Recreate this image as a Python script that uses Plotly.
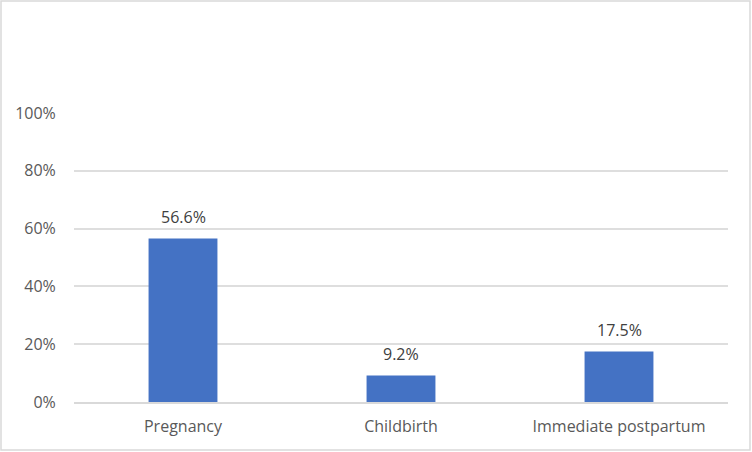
import plotly.graph_objects as go

categories = ["Pregnancy", "Childbirth", "Immediate postpartum"]
values = [0.566, 0.092, 0.175]
labels = ["56.6%", "9.2%", "17.5%"]
ytick_vals = [0, 0.2, 0.4, 0.6, 0.8, 1.0]
ytick_text = ["0%", "20%", "40%", "60%", "80%", "100%"]

W, H = 752, 452
L, R, T, B = 74, 24, 113, 50
pw, ph = W - L - R, H - T - B

fig = go.Figure(go.Bar(
    x=categories, y=values,
    marker=dict(color="#4472C4", line=dict(width=0)),
    width=0.316, hoverinfo="skip",
))

annotations = [
    dict(x=c, y=v, text=t, xref="x", yref="y", showarrow=False,
         yanchor="bottom", yshift=8,
         font=dict(size=16, color="#404040", family="Open Sans"))
    for c, v, t in zip(categories, values, labels)
]

fig.update_layout(
    width=W, height=H, margin=dict(l=L, r=R, t=T, b=B),
    paper_bgcolor="white", plot_bgcolor="white",
    font=dict(family="Open Sans", size=16, color="#595959"),
    showlegend=False,
    annotations=annotations,
    xaxis=dict(showline=True, linecolor="#d9d9d9", linewidth=1.5,
               ticks="outside", ticklen=9, tickcolor="rgba(0,0,0,0)",
               tickfont=dict(size=16, color="#595959")),
    yaxis=dict(range=[0, 1], tickvals=ytick_vals, ticktext=ytick_text,
               showgrid=True, gridcolor="#dedede", gridwidth=1.5,
               zeroline=False, showline=False,
               ticks="outside", ticklen=14, tickcolor="rgba(0,0,0,0)",
               tickfont=dict(size=16, color="#595959")),
    shapes=[dict(type="rect", xref="paper", yref="paper",
                 x0=(1 - L) / pw, x1=(W - 2 - L) / pw,
                 y0=(H - B - (H - 2)) / ph, y1=(H - B - 1) / ph,
                 line=dict(color="#d9d9d9", width=1.5))],
)

fig.write_html("out.html", config={"displayModeBar": False},
               post_script="document.body.style.margin='0';document.body.style.overflow='hidden';")
